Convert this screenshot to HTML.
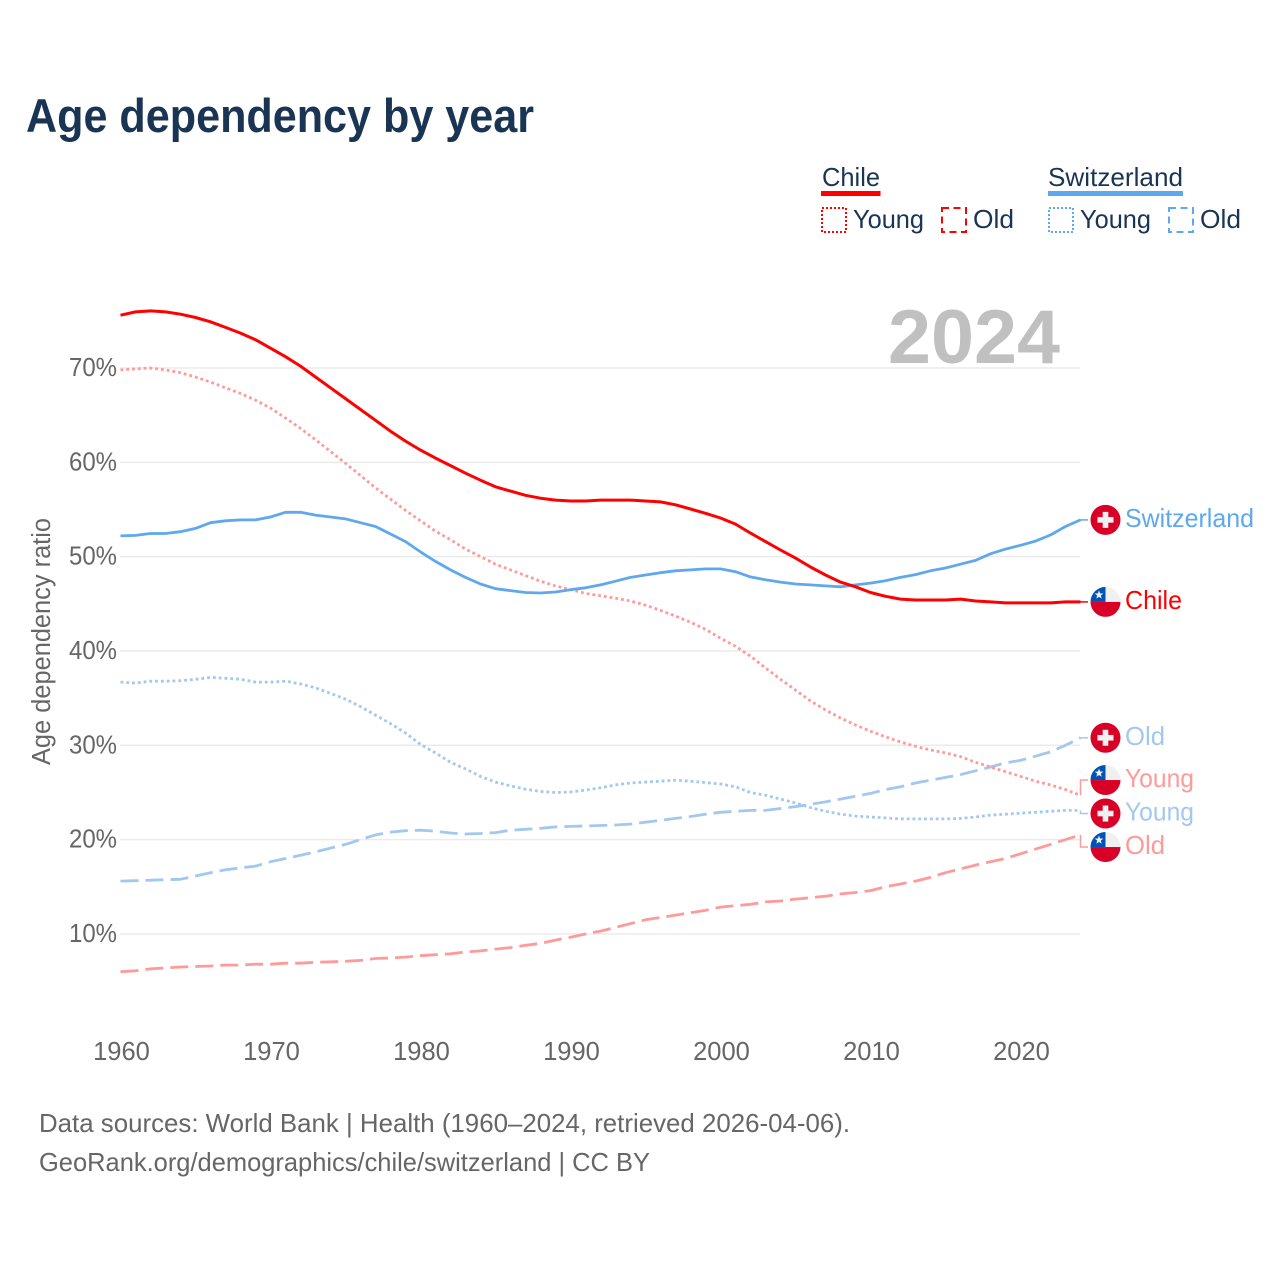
<!DOCTYPE html>
<html lang="en">
<head>
<meta charset="utf-8">
<title>Age dependency by year</title>
<style>
html,body{margin:0;padding:0;background:#fff;}
svg{display:block;}
text{font-family:"Liberation Sans",sans-serif;}
</style>
</head>
<body>
<svg id="chart" xmlns="http://www.w3.org/2000/svg" width="1280" height="1280" viewBox="0 0 1280 1280">
  <rect x="0" y="0" width="1280" height="1280" fill="#ffffff"/>
  <text x="26" y="132" font-size="47" font-weight="700" fill="#1a3454" textLength="508" lengthAdjust="spacingAndGlyphs">Age dependency by year</text>

  <g font-size="26" fill="#1a3454">
    <text x="822" y="186" textLength="58" lengthAdjust="spacingAndGlyphs">Chile</text>
    <rect x="821" y="191" width="59.5" height="5" fill="#ff0000"/>
    <rect x="822" y="208" width="24" height="24" fill="none" stroke="#ff0000" stroke-width="2" stroke-dasharray="2 2"/>
    <text x="853" y="228" textLength="71" lengthAdjust="spacingAndGlyphs">Young</text>
    <rect x="942" y="208" width="24" height="24" fill="none" stroke="#ff0000" stroke-width="2" stroke-dasharray="7 4.5"/>
    <text x="973" y="228" textLength="41" lengthAdjust="spacingAndGlyphs">Old</text>
    <text x="1048" y="186" textLength="135" lengthAdjust="spacingAndGlyphs">Switzerland</text>
    <rect x="1048" y="191" width="135" height="5" fill="#5fa8ee"/>
    <rect x="1049" y="208" width="24" height="24" fill="none" stroke="#5fa8ee" stroke-width="2" stroke-dasharray="2 2"/>
    <text x="1080" y="228" textLength="71" lengthAdjust="spacingAndGlyphs">Young</text>
    <rect x="1169" y="208" width="24" height="24" fill="none" stroke="#5fa8ee" stroke-width="2" stroke-dasharray="7 4.5"/>
    <text x="1200" y="228" textLength="41" lengthAdjust="spacingAndGlyphs">Old</text>
  </g>

  <g id="grid-group"></g>
  <text x="888" y="363" font-size="76" font-weight="700" fill="#c0c0c0" textLength="172" lengthAdjust="spacingAndGlyphs">2024</text>
  <g id="yticks-group" font-size="25.5" fill="#666666"></g>
  <g id="xticks-group" font-size="25.5" fill="#666666"></g>
  <text transform="translate(50,641.5) rotate(-90)" text-anchor="middle" font-size="25.5" fill="#666666" textLength="247" lengthAdjust="spacingAndGlyphs">Age dependency ratio</text>

  <g id="series-group"></g>
  <g id="labels-group"></g>

  <g font-size="26" fill="#666666">
    <text x="39" y="1132" textLength="811" lengthAdjust="spacingAndGlyphs">Data sources: World Bank | Health (1960–2024, retrieved 2026-04-06).</text>
    <text x="39" y="1171" textLength="611" lengthAdjust="spacingAndGlyphs">GeoRank.org/demographics/chile/switzerland | CC BY</text>
  </g>
</svg>
<script>
var startYear = 1960;
var xTickYears = [1960, 1970, 1980, 1990, 2000, 2010, 2020];
var yTickValues = [10, 20, 30, 40, 50, 60, 70];

var chileTotal = [75.6,75.95,76.05,75.95,75.7,75.35,74.9,74.3,73.7,73,72.1,71.2,70.2,69.05,67.9,66.75,65.6,64.45,63.3,62.25,61.3,60.45,59.65,58.85,58.1,57.4,56.95,56.5,56.2,56,55.9,55.9,56,56,56,55.9,55.8,55.5,55.05,54.6,54.1,53.45,52.5,51.6,50.7,49.85,48.9,48.05,47.3,46.8,46.2,45.8,45.5,45.4,45.4,45.4,45.5,45.3,45.2,45.1,45.1,45.1,45.1,45.2,45.2];
var switzerlandTotal = [52.2,52.25,52.45,52.45,52.65,53,53.6,53.8,53.9,53.9,54.2,54.7,54.7,54.4,54.2,54,53.6,53.2,52.4,51.6,50.5,49.5,48.6,47.8,47.1,46.6,46.4,46.2,46.15,46.25,46.5,46.7,47,47.4,47.8,48.05,48.3,48.5,48.6,48.7,48.7,48.4,47.85,47.55,47.3,47.1,47,46.9,46.8,47,47.2,47.45,47.8,48.1,48.5,48.8,49.2,49.6,50.3,50.8,51.2,51.65,52.3,53.2,53.9];
var chileYoung = [69.8,69.9,70,69.8,69.5,69.05,68.5,67.9,67.3,66.6,65.75,64.7,63.6,62.4,61.15,59.9,58.6,57.3,56.1,54.9,53.8,52.7,51.8,50.8,50,49.2,48.6,48,47.4,46.9,46.5,46.1,45.85,45.6,45.3,44.85,44.3,43.7,43.05,42.3,41.35,40.5,39.45,38.2,37,35.85,34.7,33.75,32.9,32.15,31.5,30.9,30.35,29.9,29.5,29.2,28.8,28.2,27.7,27.2,26.7,26.2,25.8,25.3,24.7];
var chileOld = [6,6.1,6.3,6.4,6.5,6.55,6.6,6.7,6.7,6.8,6.8,6.9,6.9,7,7.05,7.1,7.2,7.4,7.45,7.55,7.7,7.8,7.9,8.1,8.2,8.4,8.55,8.8,9,9.35,9.65,10,10.3,10.7,11.1,11.5,11.75,12,12.25,12.5,12.85,13,13.15,13.4,13.5,13.7,13.85,14,14.25,14.4,14.6,15,15.3,15.6,16,16.5,16.9,17.3,17.65,18,18.5,19,19.5,20,20.5];
var switzerlandYoung = [36.7,36.6,36.8,36.8,36.85,37,37.2,37.1,37,36.7,36.7,36.8,36.5,36.1,35.5,34.9,34.1,33.2,32.3,31.3,30.1,29.2,28.2,27.5,26.7,26.1,25.7,25.35,25.1,25,25.05,25.25,25.5,25.8,26,26.1,26.2,26.3,26.2,26.05,25.9,25.6,25,24.7,24.3,23.9,23.4,23,22.7,22.5,22.4,22.3,22.2,22.2,22.2,22.2,22.25,22.4,22.6,22.7,22.8,22.9,23,23.1,23.1];
var switzerlandOld = [15.6,15.65,15.7,15.75,15.8,16.15,16.5,16.8,17,17.2,17.65,18,18.35,18.7,19.1,19.5,20,20.5,20.8,20.95,21,20.9,20.7,20.6,20.65,20.75,21,21.1,21.2,21.35,21.4,21.45,21.5,21.55,21.65,21.85,22.05,22.25,22.45,22.7,22.9,23,23.1,23.1,23.3,23.5,23.75,24,24.3,24.6,24.9,25.3,25.6,26,26.3,26.6,26.9,27.3,27.7,28.15,28.4,28.85,29.3,30,30.8];

var NS = 'http://www.w3.org/2000/svg';
var RED = '#ff0000', BLUE = '#5fa8ee', PINK = '#ff9a9a', LBLUE = '#a2c8f0';

function xScale(year) { return 120.5 + (year - 1960) * 15; }
function yScale(v) { return 1028.3 - v * 9.433; }

function make(tag, attrs, parent, text) {
  var el = document.createElementNS(NS, tag);
  for (var k in attrs) el.setAttribute(k, attrs[k]);
  if (text !== undefined) el.textContent = text;
  parent.appendChild(el);
  return el;
}

var gridGroup = document.getElementById('grid-group');
var yTickGroup = document.getElementById('yticks-group');
yTickValues.forEach(function (v) {
  var line = make('line', {x1: 120, x2: 1080, y1: yScale(v), y2: yScale(v), stroke: '#ebebeb', 'stroke-width': 1.5}, gridGroup);
  
  
  var label = make('text', {x: 117, y: yScale(v) + 8, 'text-anchor': 'end', textLength: 48, lengthAdjust: 'spacingAndGlyphs'}, yTickGroup, v + '%');
  
  
});

var xTickGroup = document.getElementById('xticks-group');
xTickYears.forEach(function (yr) {
  var label = make('text', {x: xScale(yr) + 1, y: 1060, 'text-anchor': 'middle'}, xTickGroup, String(yr));
  
  
});

var seriesList = [
  {key: 'switzerland-old', label: 'Old', flag: 'ch', color: LBLUE, values: switzerlandOld, width: 2.8, dash: '18 7'},
  {key: 'chile-old', label: 'Old', flag: 'cl', color: PINK, values: chileOld, width: 2.8, dash: '18 7'},
  {key: 'switzerland-young', label: 'Young', flag: 'ch', color: LBLUE, values: switzerlandYoung, width: 2.8, dash: '2.8 3'},
  {key: 'chile-young', label: 'Young', flag: 'cl', color: PINK, values: chileYoung, width: 2.8, dash: '2.8 3'},
  {key: 'switzerland-total', label: 'Switzerland', flag: 'ch', color: BLUE, values: switzerlandTotal, width: 2.8, dash: ''},
  {key: 'chile-total', label: 'Chile', flag: 'cl', color: RED, values: chileTotal, width: 3, dash: ''}
];
var labelWidths = {'Switzerland': 129, 'Chile': 57, 'Young': 69, 'Old': 40};

var seriesGroup = document.getElementById('series-group');
seriesList.forEach(function (s) {
  var pts = s.values.map(function (v, i) { return xScale(startYear + i).toFixed(1) + ',' + yScale(v).toFixed(1); }).join(' ');
  var attrs = {points: pts, fill: 'none', stroke: s.color, 'stroke-width': s.width, 'stroke-linejoin': 'round'};
  if (s.dash) attrs['stroke-dasharray'] = s.dash;
  var line = make('polyline', attrs, seriesGroup);
  
  
});

/* end label placement: overlapping labels are merged into evenly spaced clusters */
var GAP = 33.5;
var clusters = seriesList.map(function (s) {
  var end = yScale(s.values[s.values.length - 1]);
  return {items: [{s: s, end: end}], centre: end};
}).sort(function (a, b) { return a.centre - b.centre; });
function clusterTop(c) { return c.centre - (c.items.length - 1) * GAP / 2; }
function clusterBottom(c) { return c.centre + (c.items.length - 1) * GAP / 2; }
var merged = true;
while (merged) {
  merged = false;
  for (var i = 0; i < clusters.length - 1; i++) {
    if (clusterBottom(clusters[i]) + GAP > clusterTop(clusters[i + 1])) {
      var items = clusters[i].items.concat(clusters[i + 1].items);
      var sum = items.reduce(function (a, it) { return a + it.end; }, 0);
      clusters.splice(i, 2, {items: items, centre: sum / items.length});
      merged = true;
      break;
    }
  }
}

var labelGroup = document.getElementById('labels-group');
var FX = 1105.5, R = 15;

function drawFlag(kind, cy, parent, clipId) {
  var g = make('g', {}, parent);
  
  
  if (kind === 'ch') {
    make('circle', {cx: FX, cy: cy, r: R, fill: '#d80027'}, g);
    make('rect', {x: FX - 8, y: cy - 2.8, width: 16, height: 5.6, fill: '#f0f0f0'}, g);
    make('rect', {x: FX - 2.8, y: cy - 8, width: 5.6, height: 16, fill: '#f0f0f0'}, g);
  } else {
    var cp = make('clipPath', {id: clipId}, g);
    make('circle', {cx: FX, cy: cy, r: R}, cp);
    var inner = make('g', {'clip-path': 'url(#' + clipId + ')'}, g);
    make('rect', {x: FX - R, y: cy - R, width: 2 * R, height: R, fill: '#f0f0f0'}, inner);
    make('rect', {x: FX - R, y: cy, width: 2 * R, height: R, fill: '#d80027'}, inner);
    make('rect', {x: FX - R, y: cy - R, width: R, height: R, fill: '#0052b4'}, inner);
    var starPts = [];
    for (var k = 0; k < 10; k++) {
      var rad = k % 2 ? 1.9 : 4.6;
      var a = -Math.PI / 2 + k * Math.PI / 5;
      starPts.push((FX - 6.5 + rad * Math.cos(a)).toFixed(2) + ',' + (cy - 7 + rad * Math.sin(a)).toFixed(2));
    }
    make('polygon', {points: starPts.join(' '), fill: '#f0f0f0'}, inner);
  }
}

var flagCount = 0;
clusters.forEach(function (c) {
  c.items.forEach(function (it, idx) {
    var s = it.s;
    var ly = c.centre + (idx - (c.items.length - 1) / 2) * GAP;
    var d = 'M1080.5 ' + it.end.toFixed(1) + 'V' + ly.toFixed(1) + 'H1088';
    var conn = make('path', {d: d, fill: 'none', stroke: s.color, 'stroke-width': 1.5}, labelGroup);
    
    
    drawFlag(s.flag, ly, labelGroup, 'flag-clip-' + (flagCount++));
    var t = make('text', {x: 1125, y: ly + 7, 'font-size': 26, fill: s.color, textLength: labelWidths[s.label], lengthAdjust: 'spacingAndGlyphs'}, labelGroup, s.label);
    
    
  });
});
</script>
</body>
</html>
